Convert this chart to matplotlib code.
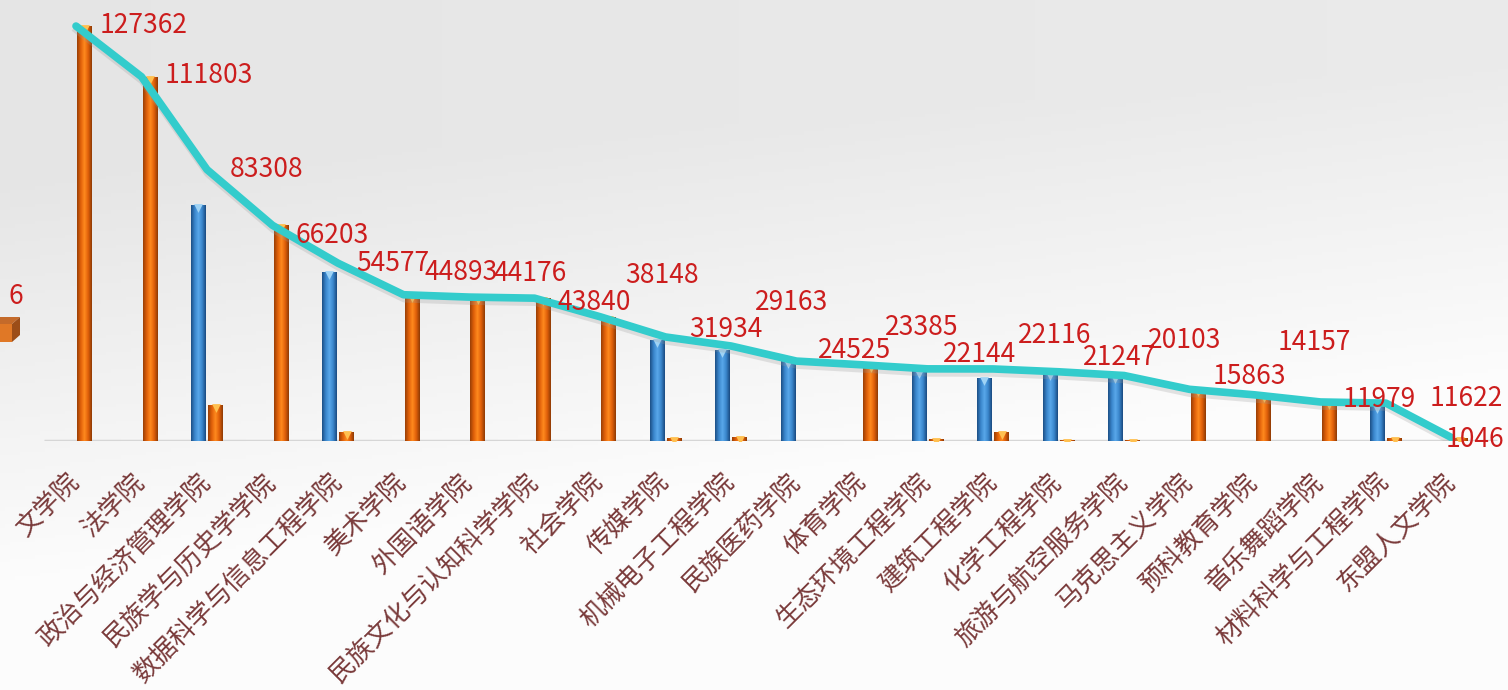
import numpy as np
import matplotlib
matplotlib.use("Agg")
import matplotlib.pyplot as plt
from matplotlib.colors import LinearSegmentedColormap
from matplotlib.patches import Polygon
from matplotlib import transforms

plt.rcParams['font.family'] = ['Noto Sans CJK SC', 'DejaVu Sans']

# 学院
colleges = ["文学院", "法学院", "政治与经济管理学院", "民族学与历史学学院", "数据科学与信息工程学院",
            "美术学院", "外国语学院", "民族文化与认知科学学院", "社会学院", "传媒学院",
            "机械电子工程学院", "民族医药学院", "体育学院", "生态环境工程学院", "建筑工程学院",
            "化学工程学院", "旅游与航空服务学院", "马克思主义学院", "预科教育学院", "音乐舞蹈学院",
            "材料科学与工程学院", "东盟人文学院"]
# 合计 (折线 + 标签)
totals = [127362, 111803, 83308, 66203, 54577, 44893, 44176, 43840, 38148, 31934,
          29163, 24525, 23385, 22144, 22116, 21247, 20103, 15863, 14157, 11979,
          11622, 1046]
# 蓝色系列
blue_vals = [0, 0, 72308, 0, 51877, 0, 0, 0, 0, 31034,
             27863, 24525, 0, 21600, 19400, 20900, 19800, 0, 0, 0,
             10700, 0]
# 橙色系列
orange_vals = [127362, 111803, 11000, 66203, 2700, 44893, 44176, 43840, 38148, 900,
               1300, 0, 23385, 544, 2716, 347, 303, 15863, 14157, 11979,
               922, 1046]

# 标签偏移 (像素: 右移, 下移)
lab_dx = [24, 23, 23, 23, 18, 21, 25, 23, 25, 24, 24, 21, 23, 15, 25, 24, 24, 23, 23, 22, 44, -6]
lab_dy = [-1, -1, 0, 10, 0, -22, -24, 4, -41, -7, -43, -11, -37, -14, -33, -14, -35, -13, -52, -2, -5, 2]

W, H = 1508, 690
fig = plt.figure(figsize=(W / 100, H / 100), dpi=100)

# 背景渐变
bg = fig.add_axes([0, 0, 1, 1])
yy, xx = np.mgrid[0:1:200j, 0:1:300j]
shade = 0.9 + 0.09 * np.clip(yy * 1.7 - 0.45 + 0.3 * xx, 0, 1) + 0.02 * xx
shade = np.clip(shade, 0, 0.99)
bg.imshow(np.dstack([shade] * 3), extent=[0, 1, 0, 1], aspect="auto", origin="upper")
bg.axis("off")

base_px = 441
ax = fig.add_axes([0, (H - base_px) / H, 1, base_px / H])
ax.set_facecolor("none")
x = np.arange(len(colleges))
bw = 0.22
off = 0.13

cm_orange = LinearSegmentedColormap.from_list("o", ["#9a3f06", "#e0600a", "#ff8a1e", "#e0600a", "#8f3a05"])
cm_blue = LinearSegmentedColormap.from_list("b", ["#1c4f86", "#3a86cc", "#59a8ea", "#3a86cc", "#1a4a80"])
grad = np.linspace(0, 1, 64)[None, :]

def grad_bars(xs, vals, cmap, top_col):
    bars = ax.bar(xs, vals, width=bw, color="none", edgecolor="none", zorder=2)
    for b, v in zip(bars, vals):
        if v <= 0:
            continue
        x0 = b.get_x()
        im = ax.imshow(grad, extent=[x0, x0 + bw, 0, v], aspect="auto", cmap=cmap, zorder=2)
        im.set_clip_path(b)
    tr = transforms.offset_copy(ax.transData, fig=fig, y=-3, units="dots")
    xv = [xi for xi, v in zip(xs, vals) if v > 0]
    vv = [v for v in vals if v > 0]
    ax.scatter(xv, vv, marker="v", s=40, color=top_col, linewidths=0, transform=tr, zorder=3)

grad_bars(x - off, blue_vals, cm_blue, "#9fd3f5")
grad_bars(x + off, orange_vals, cm_orange, "#ffc050")

ax.plot([-0.49, 21.7], [0, 0], color="#d6d6d6", lw=2.5, zorder=1, solid_capstyle="butt")

shadow = transforms.offset_copy(ax.transData, fig=fig, x=1, y=-4, units="dots")
ax.plot(x, totals, color="#999999", lw=5.5, alpha=0.25, transform=shadow, zorder=4)
ax.plot(x, totals, color="#33cccc", lw=5.5, zorder=5, solid_joinstyle="round", solid_capstyle="round")

for xi, t, dx, dy in zip(x, totals, lab_dx, lab_dy):
    ax.annotate(f"{t}", (xi, t), xytext=(dx * 0.72, -dy * 0.72), textcoords="offset points",
                ha="left", va="center", fontsize=19, color="#cc1d1d", zorder=6)

ax.set_xticks(x)
ax.set_xticklabels(colleges, rotation=45, ha="right", va="top", rotation_mode="anchor",
                   fontsize=18.5, color="#7a3b3b")
ax.tick_params(axis="x", length=0, pad=10)
shift = transforms.ScaledTranslation(-10 / 100, -14 / 100, fig.dpi_scale_trans)
for lab in ax.get_xticklabels():
    lab.set_transform(lab.get_transform() + shift)
ax.set_yticks([])
for s in ax.spines.values():
    s.set_visible(False)
ax.set_xlim(-76 / 65.5, (W - 76) / 65.5)
ax.set_ylim(0, base_px / 0.003258)

# 左侧残留图例
def px(a, b):
    return (a / W, 1 - b / H)

fig.text(*px(8, 296), "6", fontsize=19, color="#cc1d1d", va="center", ha="left")
fig.patches.append(Polygon([px(0, 317), px(20, 317), px(12, 324), px(0, 324)], closed=True,
                           transform=fig.transFigure, facecolor="#c46a2a", edgecolor="none"))
fig.patches.append(Polygon([px(0, 324), px(12, 324), px(12, 342), px(0, 342)], closed=True,
                           transform=fig.transFigure, facecolor="#e07826", edgecolor="none"))
fig.patches.append(Polygon([px(12, 324), px(20, 317), px(20, 335), px(12, 342)], closed=True,
                           transform=fig.transFigure, facecolor="#9c4d18", edgecolor="none"))

fig.savefig("out.png", dpi=100)
